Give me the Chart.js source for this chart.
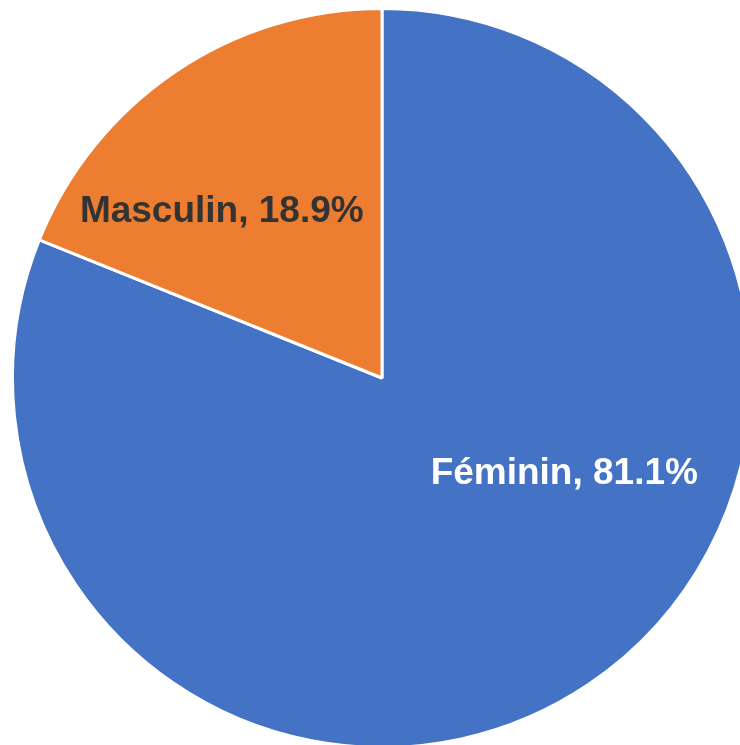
<!DOCTYPE html>
<html>
<head>
<meta charset="utf-8">
<script src="https://cdn.jsdelivr.net/npm/chart.js@4/dist/chart.umd.min.js"></script>
<style>
  html, body { margin: 0; padding: 0; background: #ffffff; overflow: hidden; width: 740px; height: 745px; }
  #wrap { position: absolute; left: 11px; top: 7px; width: 742px; height: 742px; }
</style>
</head>
<body>
<div id="wrap"><canvas id="c" width="742" height="742"></canvas></div>
<script>
const categories = ["Féminin", "Masculin"];
const values = [81.1, 18.9];
const sliceColors = ["#4472C4", "#ED7D31"];
const labelColors = ["#FFFFFF", "#333333"];
// label placement inside each slice: fraction along slice angle, fraction of radius
const labelAngleFrac = [0.403, 0.353];
const labelRadiusFrac = [0.557, 0.624];

const labelPlugin = {
  id: 'sliceLabels',
  afterDatasetsDraw(chart) {
    const ctx = chart.ctx;
    const meta = chart.getDatasetMeta(0);
    ctx.save();
    ctx.font = 'bold 37px "Liberation Sans", Arial, sans-serif';
    ctx.textAlign = 'center';
    ctx.textBaseline = 'middle';
    meta.data.forEach((arc, i) => {
      const p = arc.getProps(['x', 'y', 'startAngle', 'endAngle', 'outerRadius'], true);
      const a = p.startAngle + (p.endAngle - p.startAngle) * labelAngleFrac[i];
      const r = p.outerRadius * labelRadiusFrac[i];
      const x = p.x + Math.cos(a) * r;
      const y = p.y + Math.sin(a) * r;
      ctx.fillStyle = labelColors[i];
      ctx.fillText(categories[i] + ', ' + values[i].toFixed(1) + '%', x, y);
    });
    ctx.restore();
  }
};

new Chart(document.getElementById('c'), {
  type: 'pie',
  data: {
    labels: categories,
    datasets: [{
      data: values,
      backgroundColor: sliceColors,
      borderColor: '#FFFFFF',
      borderWidth: 3,
      hoverOffset: 0
    }]
  },
  options: {
    responsive: false,
    animation: false,
    layout: { padding: 0 },
    plugins: {
      legend: { display: false },
      tooltip: { enabled: false }
    }
  },
  plugins: [labelPlugin]
});
</script>
</body>
</html>
